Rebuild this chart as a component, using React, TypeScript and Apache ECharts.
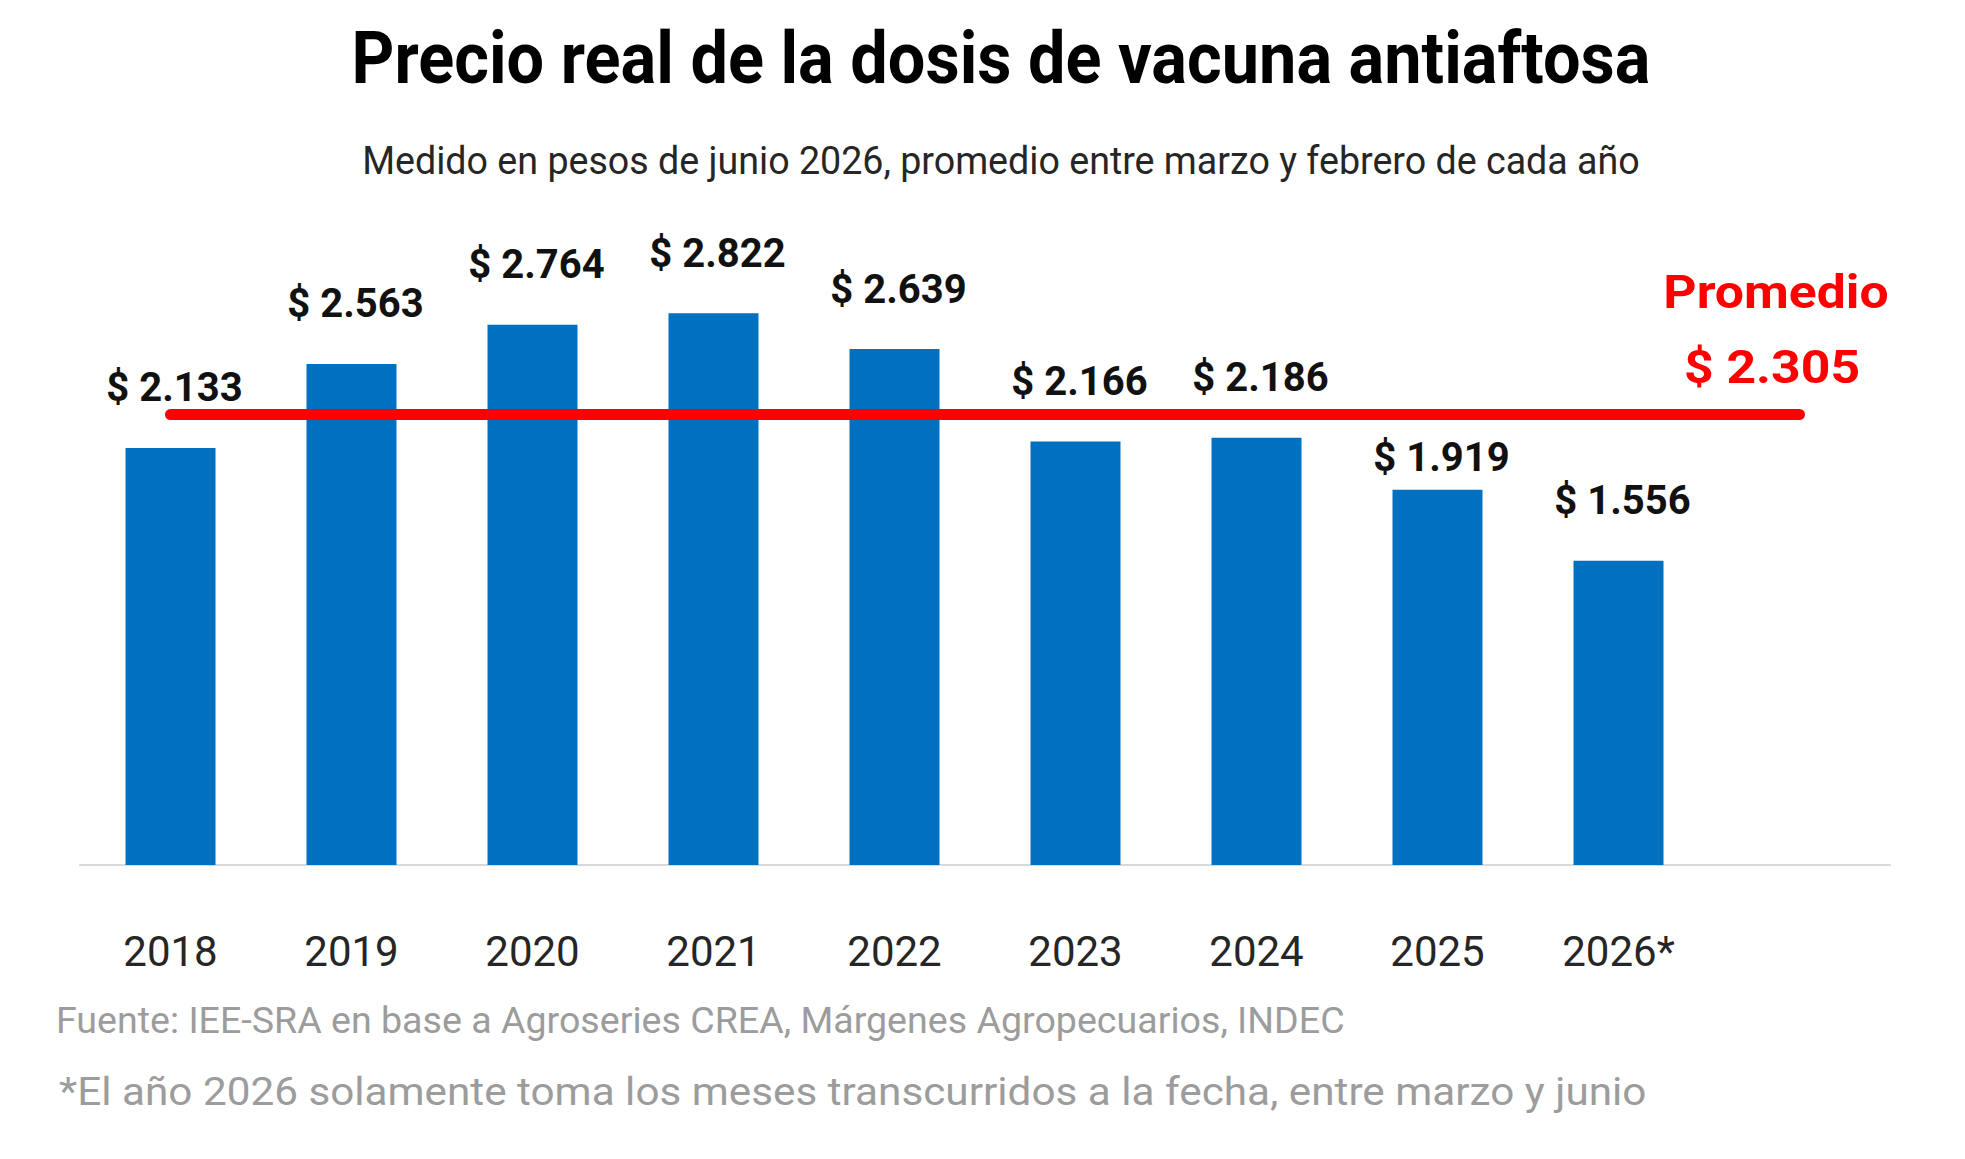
import React, { useEffect, useRef } from "react";
import * as echarts from "echarts";

const categories = ["2018", "2019", "2020", "2021", "2022", "2023", "2024", "2025", "2026*", ""];
const values = [2133, 2563, 2764, 2822, 2639, 2166, 2186, 1919, 1556];
const promedio = 2305;
const titleText = "Precio real de la dosis de vacuna antiaftosa";
const subtitleText = "Medido en pesos de junio 2026, promedio entre marzo y febrero de cada año";
const sourceText = "Fuente: IEE-SRA en base a Agroseries CREA, Márgenes Agropecuarios, INDEC";
const noteText = "*El año 2026 solamente toma los meses transcurridos a la fecha, entre marzo y junio";
const promedioLabel = "Promedio";

const fmt = (v: number) => {
  const th = Math.floor(v / 1000);
  const rest = String(v % 1000).padStart(3, "0");
  return "$ " + th + "." + rest;
};

const FONT = "Roboto, 'Noto Sans', sans-serif";

export default function App() {
  const ref = useRef<HTMLDivElement>(null);
  useEffect(() => {
    document.body.style.margin = "0";
    if (!ref.current) return;
    const chart = echarts.init(ref.current, undefined, { renderer: "svg" });
    const data = values.map((v, i) =>
      i === 7 ? { value: v, label: { distance: 12 } } : v
    );
    chart.setOption({
      animation: false,
      backgroundColor: "#ffffff",
      grid: { left: 80, right: 75, top: 278.5, bottom: 294, containLabel: false },
      xAxis: {
        type: "category",
        data: categories,
        axisLine: { lineStyle: { color: "#D9D9D9", width: 2 } },
        axisTick: { show: false },
        axisLabel: {
          fontFamily: FONT,
          fontSize: 42,
          color: "#262626",
          margin: 65,
        },
      },
      yAxis: {
        type: "value",
        min: 0,
        max: 3000,
        show: false,
        splitLine: { show: false },
      },
      series: [
        {
          type: "bar",
          data,
          barWidth: 90,
          itemStyle: { color: "#0070C0" },
          label: {
            show: true,
            position: "top",
            distance: 40,
            offset: [4, 0],
            fontFamily: FONT,
            fontWeight: "bold",
            fontSize: 40,
            color: "#111111",
            formatter: (p: any) => fmt(p.value),
          },
          markLine: {
            silent: true,
            symbol: "none",
            label: { show: false },
            lineStyle: { color: "#FF0000", width: 11, type: "solid", cap: "round" },
            data: [[{ coord: [0, promedio] }, { coord: [9, promedio] }]],
          },
        },
      ],
      graphic: [
        {
          type: "text",
          x: 1001,
          y: 58,
          scaleX: 0.913,
          style: {
            text: titleText,
            fontFamily: FONT,
            fontWeight: "bold",
            fontSize: 73,
            fill: "#000000",
            textAlign: "center",
            textVerticalAlign: "middle",
          },
        },
        {
          type: "text",
          x: 1001,
          y: 161,
          scaleX: 0.99,
          style: {
            text: subtitleText,
            fontFamily: FONT,
            fontSize: 38,
            fill: "#262626",
            textAlign: "center",
            textVerticalAlign: "middle",
          },
        },
        {
          type: "text",
          x: 1776,
          y: 291.5,
          scaleX: 1.1,
          style: {
            text: promedioLabel,
            fontFamily: FONT,
            fontWeight: "bold",
            fontSize: 47,
            fill: "#FF0000",
            textAlign: "center",
            textVerticalAlign: "middle",
          },
        },
        {
          type: "text",
          x: 1772,
          y: 366.5,
          scaleX: 1.1,
          style: {
            text: fmt(promedio),
            fontFamily: FONT,
            fontWeight: "bold",
            fontSize: 47,
            fill: "#FF0000",
            textAlign: "center",
            textVerticalAlign: "middle",
          },
        },
        {
          type: "text",
          x: 56,
          y: 1020,
          scaleX: 1.016,
          style: {
            text: sourceText,
            fontFamily: FONT,
            fontSize: 37,
            fill: "#9C9C9C",
            textAlign: "left",
            textVerticalAlign: "middle",
          },
        },
        {
          type: "text",
          x: 59,
          y: 1092,
          scaleX: 1.084,
          style: {
            text: noteText,
            fontFamily: FONT,
            fontSize: 39,
            fill: "#9C9C9C",
            textAlign: "left",
            textVerticalAlign: "middle",
          },
        },
      ],
    });
    return () => chart.dispose();
  }, []);
  return <div ref={ref} style={{ width: 1965, height: 1159 }} />;
}
